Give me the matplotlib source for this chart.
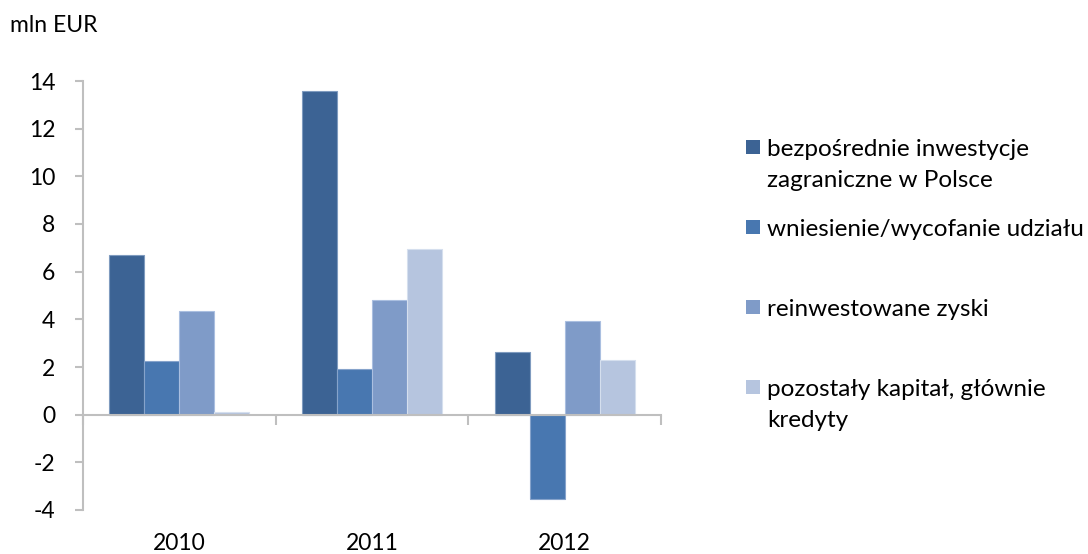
import matplotlib
matplotlib.use("Agg")
import matplotlib.pyplot as plt
from matplotlib.patches import Rectangle
import numpy as np

plt.rcParams['font.family'] = ['Lato', 'DejaVu Sans']

years = ["2010", "2011", "2012"]
series_names = [
    "bezpośrednie inwestycje\nzagraniczne w Polsce",
    "wniesienie/wycofanie udziału",
    "reinwestowane zyski",
    "pozostały kapitał, głównie\nkredyty",
]
bezposrednie = [6.7, 13.6, 2.65]
wniesienie = [2.25, 1.9, -3.55]
reinwestowane = [4.35, 4.8, 3.95]
pozostaly = [0.1, 6.95, 2.3]
yticks = [-4, -2, 0, 2, 4, 6, 8, 10, 12, 14]

series = [bezposrednie, wniesienie, reinwestowane, pozostaly]
colors = ["#3C6394", "#4877B0", "#7F9BC8", "#B6C5DF"]
edges = ["#7f9bbf", "#86a3cb", "#aabfe0", "#d5dfee"]

FS = 16.5
W, H = 1088, 554
fig = plt.figure(figsize=(W / 100, H / 100), dpi=100)
ax = fig.add_axes([83 / W, 1 - 510 / H, (661 - 83) / W, (510 - 81) / H])

x = np.arange(len(years))
bw = 0.182
for i, (vals, c, ec) in enumerate(zip(series, colors, edges)):
    ax.bar(x + (i - 1.5) * bw, vals, bw, color=c, edgecolor=ec, linewidth=0.8, zorder=3)

ax.set_xlim(-0.5, 2.5)
ax.set_ylim(-4, 14)
ax.set_yticks(yticks)
ax.set_yticklabels([str(v) for v in yticks], fontsize=FS)

gray = "#BFBFBF"
for s in ["top", "right"]:
    ax.spines[s].set_visible(False)
ax.spines["left"].set_color(gray)
ax.spines["left"].set_linewidth(1.5)
ax.spines["bottom"].set_position(("data", 0))
ax.spines["bottom"].set_color(gray)
ax.spines["bottom"].set_linewidth(1.5)
ax.spines["bottom"].set_zorder(4)
ax.tick_params(axis="y", length=6, width=1.5, color=gray, pad=14, labelcolor="black")
ax.set_xticks([-0.5, 0.5, 1.5, 2.5])
ax.set_xticklabels([])
ax.tick_params(axis="x", length=7, width=1.5, color=gray, direction="out")

for i, yr in enumerate(years):
    ax.text(i, -(543 - 510) / 429, yr, transform=ax.get_xaxis_transform(),
            ha="center", va="center", fontsize=FS)

fig.text(10 / W, 1 - 26 / H, "mln EUR", ha="left", va="center", fontsize=FS)

# legend (manual)
patch_tops = [140, 220, 300, 380]
for name, c, top in zip(series_names, colors, patch_tops):
    fig.add_artist(Rectangle((746 / W, 1 - (top + 14) / H), 14 / W, 14 / H,
                             transform=fig.transFigure, facecolor=c, edgecolor="none"))
    for k, line in enumerate(name.split("\n")):
        fig.text(767 / W, 1 - (top + 16 + 31 * k) / H, line, ha="left", va="baseline",
                 fontsize=17.5)

fig.savefig("out.png", dpi=100)
